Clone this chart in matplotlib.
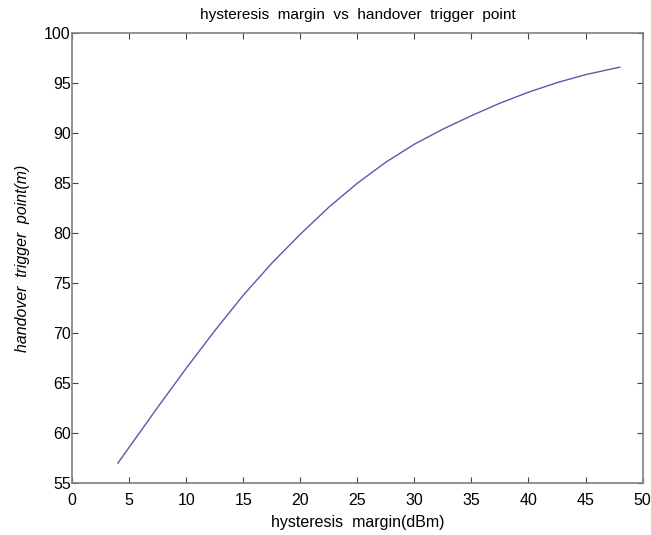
import numpy as np
from matplotlib import pyplot

pyplot.rcParams['font.family'] = ['Liberation Sans', 'DejaVu Sans']

# hysteresis margin (dBm) vs handover trigger point (m)
margin = [4, 5, 7.5, 10, 12.5, 15, 17.5, 20, 22.5, 25, 27.5, 30,
          32.5, 35, 37.5, 40, 42.5, 45, 48]
trigger = [57.0, 58.6, 62.6, 66.5, 70.25, 73.8, 77.0, 79.9, 82.6, 85.0, 87.1, 88.9,
           90.4, 91.75, 93.0, 94.1, 95.05, 95.85, 96.6]
xticks = np.arange(0, 51, 5)
yticks = np.arange(55, 101, 5)

fig = pyplot.figure(figsize=(6.51, 5.35), dpi=100)
ax = fig.add_axes([0.111, 0.097, 0.876, 0.841])
ax.plot(margin, trigger, color='#5a5aa8', linewidth=1.0)

ax.set_xlim(0, 50)
ax.set_ylim(55, 100)
ax.set_xticks(xticks)
ax.set_yticks(yticks)
ax.tick_params(direction='in', top=True, right=True, length=4, labelsize=11.5,
               color='#444444')
ax.tick_params(axis='x', pad=7)
ax.tick_params(axis='y', pad=1)
for s in ax.spines.values():
    s.set_color('#808080')
    s.set_linewidth(1.2)

ax.set_title('hysteresis  margin  vs  handover  trigger  point', fontsize=11.1, pad=10)
ax.set_xlabel('hysteresis  margin(dBm)', fontsize=11.5, labelpad=5)
ax.set_ylabel('handover  trigger  point(m)', fontsize=11.4, style='italic', labelpad=10)

pyplot.savefig('out.png', dpi=100)
